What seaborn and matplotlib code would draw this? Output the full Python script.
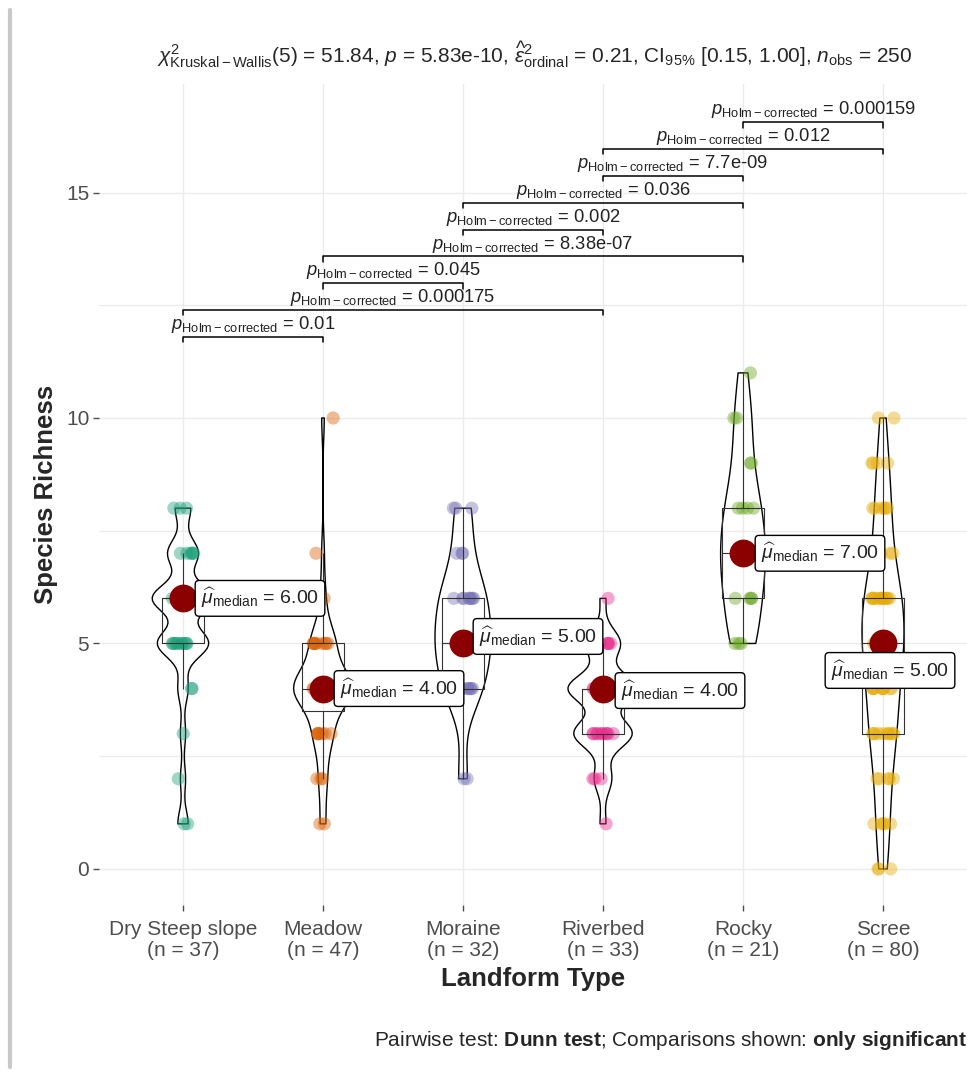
import numpy as np
import pandas as pd
import matplotlib.pyplot as plt
import matplotlib.lines as mlines
import seaborn as sns

# data: richness value -> number of plots
groups = ['Dry Steep slope', 'Meadow', 'Moraine', 'Riverbed', 'Rocky', 'Scree']
dry_counts = {1: 2, 2: 1, 3: 1, 4: 2, 5: 10, 6: 12, 7: 6, 8: 3}
meadow_counts = {1: 2, 2: 3, 3: 7, 4: 22, 5: 9, 6: 2, 7: 1, 10: 1}
moraine_counts = {2: 2, 4: 7, 5: 9, 6: 8, 7: 3, 8: 3}
riverbed_counts = {1: 1, 2: 3, 3: 10, 4: 12, 5: 6, 6: 1}
rocky_counts = {5: 3, 6: 4, 7: 5, 8: 4, 9: 2, 10: 2, 11: 1}
scree_counts = {0: 3, 1: 5, 2: 5, 3: 10, 4: 10, 5: 15, 6: 14, 7: 6, 8: 6, 9: 4, 10: 2}

# pairwise Dunn test results (only significant)
pair_a = ['Dry Steep slope', 'Dry Steep slope', 'Meadow', 'Meadow', 'Moraine',
          'Moraine', 'Riverbed', 'Riverbed', 'Rocky']
pair_b = ['Meadow', 'Riverbed', 'Moraine', 'Rocky', 'Riverbed',
          'Rocky', 'Rocky', 'Scree', 'Scree']
pair_p = ['0.01', '0.000175', '0.045', '8.38e-07', '0.002',
          '0.036', '7.7e-09', '0.012', '0.000159']

subtitle = (r"$\chi^2_{\mathrm{Kruskal-Wallis}}(5)$ = 51.84, $\mathit{p}$ = 5.83e-10, "
            r"$\widehat{\epsilon}^2_{\mathrm{ordinal}}$ = 0.21, CI$_{95\%}$ [0.15, 1.00], "
            r"$\mathit{n}_{\mathrm{obs}}$ = 250")

all_counts = [dry_counts, meadow_counts, moraine_counts, riverbed_counts, rocky_counts, scree_counts]
rows = []
for g, counts in zip(groups, all_counts):
    for val, k in counts.items():
        rows += [(g, val)] * k
df = pd.DataFrame(rows, columns=['Landform', 'Richness'])
n_per_group = df.groupby('Landform')['Richness'].size().reindex(groups)
medians = df.groupby('Landform')['Richness'].median().reindex(groups)

# styling
dark2 = ['#1B9E77', '#D95F02', '#7570B3', '#E7298A', '#66A61E', '#E6AB02']
violin_widths = [0.44, 0.42, 0.4, 0.5, 0.32, 0.3]
label_dx = [18, 17, 16, 18, 18, -52]   # pixels from the median dot
label_dy = [0, 0, 7, -2, 0, -27]

sns.set_theme(style='white')
plt.rcParams['font.family'] = ['Liberation Sans', 'DejaVu Sans']
plt.rcParams['mathtext.fontset'] = 'custom'
plt.rcParams['mathtext.rm'] = 'Liberation Sans'
plt.rcParams['mathtext.it'] = 'Liberation Sans:italic'
plt.rcParams['mathtext.bf'] = 'Liberation Sans:bold'
np.random.seed(3)

fig = plt.figure(figsize=(9.78, 10.72), dpi=100)
ax = fig.add_axes([99 / 978, 167 / 1072, 868 / 978, 820.7 / 1072])

# jittered raw points
sns.stripplot(data=df, x='Landform', y='Richness', order=groups, hue='Landform',
              hue_order=groups, palette=dark2, legend=False, jitter=0.08, size=9.5,
              alpha=0.42, linewidth=0, ax=ax, zorder=2)

# boxplots
sns.boxplot(data=df, x='Landform', y='Richness', order=groups, fill=False,
            color='#333333', width=0.3, showfliers=False, linewidth=0.8,
            capprops={'visible': False}, ax=ax, zorder=3)

# violins, one per group with an R-like (nrd0) bandwidth
for i, g in enumerate(groups):
    sub = df[df['Landform'] == g]
    sd = sub['Richness'].std()
    iqr = sub['Richness'].quantile(0.75) - sub['Richness'].quantile(0.25)
    adj = 0.85 * min(sd, iqr / 1.34) / sd
    sns.violinplot(data=sub, x='Landform', y='Richness', order=groups, fill=False,
                   color='black', linewidth=1.0, cut=0, inner=None, bw_adjust=adj,
                   density_norm='width', width=violin_widths[i], ax=ax)

# median points
sns.pointplot(data=df, x='Landform', y='Richness', order=groups, estimator='median',
              errorbar=None, color='#8B0000', linestyle='none', markersize=18, ax=ax)
ax.lines[-1].set_zorder(6)

for i, g in enumerate(groups):
    ax.annotate(r"$\widehat{\mu}_{\mathrm{median}}$ = %.2f" % medians[g],
                xy=(i, medians[g]), xytext=(label_dx[i], label_dy[i]),
                textcoords='offset pixels', ha='left', va='center', fontsize=14,
                color='#222222', zorder=7,
                bbox=dict(boxstyle='round,pad=0.3,rounding_size=0.2', fc='white',
                          ec='black', lw=1.0))

# significance brackets
base, step, tick = 11.8, 0.595, 0.12
for k, (a, b, p) in enumerate(zip(pair_a, pair_b, pair_p)):
    x1, x2 = groups.index(a), groups.index(b)
    y = base + step * k
    ax.plot([x1, x1, x2, x2], [y - tick, y, y, y - tick], color='black', lw=1.1, zorder=5)
    ax.text((x1 + x2) / 2, y + 0.04, r"$\mathit{p}_{\mathrm{Holm-corrected}}$ = " + p,
            ha='center', va='bottom', fontsize=13.2, color='#222222', zorder=5)

ax.set_xlim(-0.6, 5.6)
ax.set_ylim(-0.8, 17.4)
ax.set_yticks([0, 5, 10, 15])
ax.set_yticks([2.5, 7.5, 12.5], minor=True)
ax.set_xticks(range(len(groups)))
ax.set_xticklabels([f"{g}\n(n = {n_per_group[g]})" for g in groups], linespacing=1.1)
ax.grid(True, which='both', color='#EBEBEB', lw=1.0)
ax.set_axisbelow(True)
for s in ax.spines.values():
    s.set_visible(False)
ax.tick_params(axis='both', which='major', length=4, width=1, color='#4D4D4D',
               labelcolor='#4D4D4D', labelsize=15, bottom=True, left=True, pad=3)
ax.tick_params(axis='x', which='major', pad=7)
ax.tick_params(axis='y', which='minor', length=0)
ax.set_xlabel('Landform Type', fontsize=18.5, fontweight='bold', labelpad=5)
ax.set_ylabel('Species Richness', fontsize=18.5, fontweight='bold', labelpad=6)

fig.text(535 / 978, 1 - 55 / 1072, subtitle, ha='center', va='center', fontsize=15)
fig.text(967 / 978, 1 - 1040 / 1072,
         r"Pairwise test: $\mathbf{Dunn\ test}$; Comparisons shown: $\mathbf{only\ significant}$",
         ha='right', va='center', fontsize=15)

# screenshot edge on the left
fig.add_artist(mlines.Line2D([10 / 978, 10 / 978], [0.005, 1 - 10 / 1072],
                             color='#C8C8C8', lw=3, transform=fig.transFigure))

plt.savefig('out.png', dpi=100)
